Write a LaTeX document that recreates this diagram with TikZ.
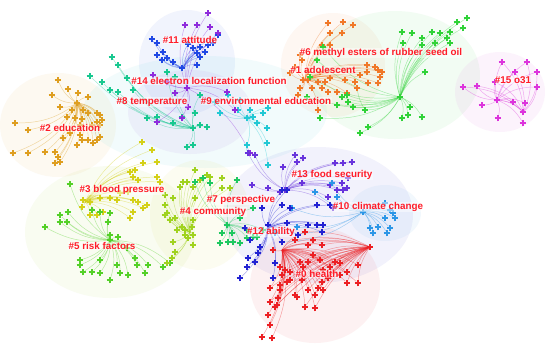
\documentclass[tikz,border=0pt]{standalone}
\usepackage{fontspec}
\setmainfont{Liberation Sans}
\usetikzlibrary{shapes.misc}
\pgfdeclarelayer{blob}
\pgfdeclarelayer{edge}
\pgfsetlayers{blob,edge,main}
\definecolor{c0}{RGB}{236,32,36}
\definecolor{c1}{RGB}{240,120,40}
\definecolor{c2}{RGB}{222,158,32}
\definecolor{c3}{RGB}{212,208,24}
\definecolor{c4}{RGB}{160,210,30}
\definecolor{c5}{RGB}{84,208,40}
\definecolor{c6}{RGB}{48,210,56}
\definecolor{c7}{RGB}{30,200,96}
\definecolor{c8}{RGB}{24,200,144}
\definecolor{c9}{RGB}{34,200,212}
\definecolor{c10}{RGB}{44,150,230}
\definecolor{c11}{RGB}{32,72,228}
\definecolor{c12}{RGB}{34,34,210}
\definecolor{c13}{RGB}{104,52,220}
\definecolor{c14}{RGB}{142,44,220}
\definecolor{c15}{RGB}{220,52,220}
\definecolor{lbl}{RGB}{255,28,40}
\newcommand\clusterfan[3]{%
  \coordinate (h#1) at (#2);
  \foreach \p [count=\i] in {#3}
    \node[mk,draw=#1] (#1-\i) at (\p) {};
  \begin{pgfonlayer}{edge}
    \foreach \p [count=\i] in {#3}
      \draw[ln,#1] (h#1) to[bend left=18] (#1-\i);
  \end{pgfonlayer}}

\begin{document}
\begin{tikzpicture}[x=0.5mm,y=-0.5mm,
  mk/.style={cross out,draw,rotate=45,minimum size=1.7mm,inner sep=0pt,line width=2pt},
  ln/.style={line width=.7pt,draw opacity=.4},
  blob/.style={fill opacity=.06},
  lab/.style={text=lbl,font=\bfseries\fontsize{14}{16}\selectfont,fill=white,fill opacity=.45,text opacity=1,inner sep=.6pt}]
  \useasboundingbox (0,0) rectangle (550,351);

  \begin{pgfonlayer}{blob}
    \fill[white] (0,0) rectangle (550,351);
    \fill[c2,blob] (58,125) ellipse (58 and 52);
    \fill[c11,blob] (187,62) ellipse (48 and 52);
    \fill[c14,blob] (190,112) ellipse (62 and 42);
    \fill[c9,blob] (205,112) ellipse (122 and 56);
    \fill[c1,blob] (333,65) ellipse (52 and 52);
    \fill[c6,blob] (395,75) ellipse (85 and 64);
    \fill[c15,blob] (500,92) ellipse (45 and 40);
    \fill[c4,blob] (110,232) ellipse (85 and 66);
    \fill[c3,blob] (200,215) ellipse (50 and 55);
    \fill[c12,blob] (318,215) ellipse (95 and 68);
    \fill[c10,blob] (385,213) ellipse (36 and 28);
    \fill[c0,blob] (315,285) ellipse (65 and 58);
  \end{pgfonlayer}

  \clusterfan{c2}{77,103}{{58,80},{68,89},{52,95},{78,93},{60,107},{77,103},{88,97},{72,110},{83,110},{88,113},{97,113},{100,115},{102,120},{97,122},{82,119},{75,118},{67,117},{80,125},{92,125},{100,125},{70,133},{80,135},{88,140},{93,143},{97,140},{100,137},{82,140},{77,145},{63,138},{15,123},{28,130},{13,153},{28,153},{45,152},{55,152},{58,157},{55,163},{60,162}}
  \clusterfan{c8}{193,128}{{112,57},{118,65},{90,76},{102,82},{110,90},{118,92},{127,78},{133,90},{147,118},{157,117},{173,123},{182,117},{195,113},{193,128},{200,125},{207,127},{187,147},{193,145},{167,72},{175,77},{200,95}}
  \clusterfan{c9}{247,118}{{220,113},{238,110},{247,118},{250,110},{253,117},{263,113},{257,123},{267,128},{247,145},{267,143},{268,165},{240,100},{228,95},{268,108},{215,102}}
  \clusterfan{c11}{183,68}{{152,39},{157,43},{163,52},{167,58},{173,62},{182,68},{193,48},{200,47},{208,45},{213,43},{218,35},{197,53},{200,57},{157,55},{162,60},{197,65},{188,44},{205,52}}
  \clusterfan{c14}{187,88}{{208,13},{185,25},{197,25},{210,27},{218,33},{153,75},{167,82},{175,93},{187,88},{188,107},{182,118},{157,122},{227,92},{235,110},{250,153}}
  \clusterfan{c1}{305,80}{{328,23},{343,22},{353,25},{342,33},{330,33},{322,45},{330,45},{300,55},{302,60},{295,67},{290,73},{308,72},{320,72},{303,80},{308,80},{318,82},{325,82},{330,78},{345,80},{355,82},{360,75},{367,72},{367,65},{375,67},{378,70},{382,72},{380,77},{378,83},{368,83},{357,88},{347,93},{337,92},{328,92},{322,88},{312,88},{300,88},{298,95},{318,110}}
  \clusterfan{c6}{400,97}{{402,32},{412,33},{422,38},{432,32},{440,33},{450,32},{457,22},{467,18},{463,28},{447,38},{450,43},{435,43},{422,45},{403,43},{425,72},{400,97},{410,107},{408,115},{422,117},{402,118},{365,110},{353,107},{337,105},{348,102},{347,95},{342,97},{320,118},{368,127},{360,133},{317,60},{323,47},{310,77},{307,97}}
  \clusterfan{c15}{497,100}{{502,62},{527,62},{537,72},{537,87},{515,72},{495,82},{477,86},{463,87},{497,100},{513,102},{525,103},{523,112},{482,105},{498,118},{523,123}}
  \clusterfan{c3}{85,202}{{83,200},{90,202},{100,198},{110,198},{120,193},{128,192},{133,200},{138,202},{147,205},{143,208},{133,212},{130,218},{117,200},{103,212},{97,215},{90,215},{82,207},{133,177},{138,180},{160,182},{157,177},{142,142},{152,150},{157,162},{143,163},{135,170},{130,172}}
  \clusterfan{c5}{110,240}{{70,184},{45,227},{60,215},{68,212},{60,222},{67,222},{92,210},{100,212},{110,213},{108,222},{110,235},{118,237},{110,240},{127,248},{135,258},{148,265},{163,267},{170,263},{80,260},{100,260},{117,265},{137,265},{83,272},{92,272},{100,273},{110,280},{120,273},{128,275},{145,273},{80,265}}
  \clusterfan{c4}{190,232}{{165,195},{165,205},{167,213},{170,220},{175,218},{182,227},{177,230},{185,230},{192,227},{193,235},{188,238},{193,245},{185,235},{173,242},{175,252},{167,263},{172,258},{180,187},{187,182},{200,180},{210,177},{222,188},{230,188},{195,170},{207,175},{222,178},{193,187},{183,182},{173,198},{165,215},{195,198},{193,220}}
  \clusterfan{c7}{228,225}{{195,182},{203,178},{210,183},{237,180},{227,225},{222,233},{220,243},{228,242},{233,242},{240,243},{232,233},{247,238},{253,237},{247,230},{263,230},{240,218},{253,208},{257,237}}
  \clusterfan{c13}{285,190}{{248,153},{255,155},{295,155},{297,162},{303,158},{283,167},{335,163},{343,163},{352,162},{252,185},{268,188},{280,192},{285,190},{330,185},{337,190},{347,188},{348,178},{342,183},{302,183},{328,197},{333,208},{343,190}}
  \clusterfan{c10}{363,212}{{363,212},{385,203},{393,213},{385,218},{378,227},{390,228},{370,228},{373,233},{387,233},{390,210},{395,218},{332,183},{337,197},{315,192},{292,208},{297,227},{275,233},{282,242}}
  \clusterfan{c12}{268,228}{{262,208},{282,205},{268,225},{287,223},{308,225},{317,225},{323,225},{260,247},{258,253},{248,258},{255,262},{247,267},{240,278},{275,263},{273,278},{282,242},{298,235},{317,205},{330,205},{245,228},{250,240},{282,190},{287,190},{290,208},{322,232}}
  \clusterfan{c0}{282,250}{{305,232},{308,245},{313,240},{322,245},{295,240},{313,255},{308,262},{303,267},{370,247},{358,265},{340,263},{335,262},{330,267},{347,272},{347,283},{358,283},{340,275},{328,278},{322,282},{318,288},{308,290},{302,280},{290,280},{285,270},{282,275},{280,285},{295,295},{305,307},{315,308},{278,298},{277,305},{323,290},{315,295},{270,288},{270,302},{275,307},{268,315},{270,325},{262,337},{272,338},{273,250},{280,267},{290,272},{300,262},{320,260},{323,270},{287,282},{297,297},{280,290}}

  \coordinate (hc0b) at (370,247);
  \coordinate (hc15b) at (523,112);
  \begin{pgfonlayer}{edge}
    \foreach \i in {1,...,36} \draw[ln,c0] (hc0b) to[bend right=14] (c0-\i);
    \foreach \i in {1,...,9} \draw[ln,c15] (hc15b) to[bend right=20] (c15-\i);
    \draw[ln,c9] (c9-9) to[bend right=20] (c13-1);
    \draw[ln,c6] (c6-21) to[bend left=10] (c1-30);
    \draw[ln,c14] (c14-15) to[bend left=20] (c13-2);
  \end{pgfonlayer}

  \node[lab] (l11) at (190,40) {\#11 attitude};
  \node[lab] (l14) at (209,81) {\#14 electron localization function};
  \node[lab] (l8) at (152,102) {\#8 temperature};
  \node[lab] (l9) at (266,101) {\#9 environmental education};
  \node[lab] (l6) at (381,53) {\#6 methyl esters of rubber seed oil};
  \node[lab] (l1) at (323,70) {\#1 adolescent};
  \node[lab] (l15) at (513,80) {\#15 o31};
  \node[lab] (l2) at (70,128) {\#2 education};
  \node[lab] (l3) at (122,190) {\#3 blood pressure};
  \node[lab] (l7) at (241,200) {\#7 perspective};
  \node[lab] (l4) at (213,212) {\#4 community};
  \node[lab] (l5) at (102,246) {\#5 risk factors};
  \node[lab] (l13) at (332,175) {\#13 food security};
  \node[lab] (l10) at (378,207) {\#10 climate change};
  \node[lab] (l12) at (271,232) {\#12 ability};
  \node[lab] (l0) at (317,274) {\#0 health};
\end{tikzpicture}
\end{document}
